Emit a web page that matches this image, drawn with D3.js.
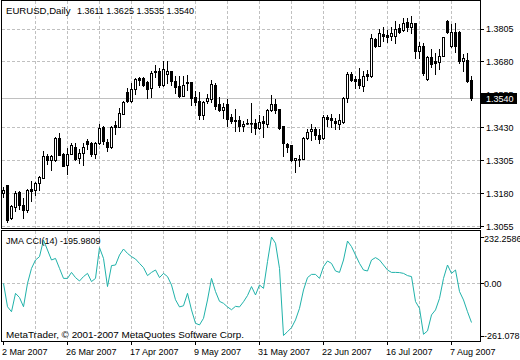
<!DOCTYPE html>
<html><head><meta charset="utf-8">
<script src="https://cdn.jsdelivr.net/npm/d3@7"></script>
<style>body{margin:0;background:#fff}svg{display:block}text{font-family:"Liberation Sans",Arial,sans-serif;fill:#000}</style>
</head><body>
<script>
const openP = [1.3180,1.3210,1.3085,1.3128,1.3184,1.3135,1.3117,1.3195,1.3193,1.3217,1.3239,1.3319,1.3305,1.3305,1.3390,1.3327,1.3287,1.3330,1.3355,1.3312,1.3331,1.3378,1.3371,1.3330,1.3371,1.3432,1.3375,1.3355,1.3438,1.3432,1.3482,1.3564,1.3529,1.3576,1.3617,1.3617,1.3602,1.3579,1.3645,1.3645,1.3589,1.3634,1.3642,1.3607,1.3585,1.3550,1.3602,1.3600,1.3545,1.3529,1.3475,1.3529,1.3539,1.3592,1.3520,1.3495,1.3520,1.3470,1.3456,1.3456,1.3434,1.3447,1.3448,1.3447,1.3428,1.3453,1.3441,1.3495,1.3520,1.3500,1.3434,1.3366,1.3361,1.3304,1.3309,1.3311,1.3390,1.3417,1.3425,1.3400,1.3390,1.3470,1.3465,1.3452,1.3444,1.3449,1.3541,1.3633,1.3614,1.3614,1.3588,1.3633,1.3623,1.3764,1.3740,1.3784,1.3780,1.3777,1.3778,1.3806,1.3799,1.3831,1.3810,1.3827,1.3721,1.3739,1.3614,1.3696,1.3680,1.3676,1.3701,1.3834,1.3739,1.3793,1.3793,1.3680,1.3686,1.3611];
const highP = [1.3203,1.3212,1.3136,1.3187,1.3187,1.3161,1.3195,1.3227,1.3223,1.3245,1.3340,1.3327,1.3323,1.3393,1.3410,1.3331,1.3350,1.3371,1.3371,1.3346,1.3371,1.3384,1.3375,1.3375,1.3441,1.3434,1.3384,1.3434,1.3453,1.3504,1.3531,1.3579,1.3598,1.3617,1.3619,1.3619,1.3607,1.3645,1.3667,1.3655,1.3682,1.3680,1.3645,1.3623,1.3623,1.3623,1.3629,1.3602,1.3567,1.3563,1.3529,1.3558,1.3608,1.3598,1.3545,1.3523,1.3538,1.3482,1.3500,1.3472,1.3453,1.3462,1.3523,1.3462,1.3476,1.3472,1.3500,1.3554,1.3538,1.3500,1.3434,1.3371,1.3364,1.3315,1.3325,1.3393,1.3424,1.3441,1.3430,1.3422,1.3475,1.3475,1.3479,1.3466,1.3482,1.3545,1.3638,1.3638,1.3625,1.3655,1.3642,1.3646,1.3784,1.3768,1.3802,1.3810,1.3799,1.3812,1.3834,1.3822,1.3844,1.3844,1.3852,1.3827,1.3755,1.3751,1.3699,1.3726,1.3711,1.3726,1.3774,1.3837,1.3822,1.3825,1.3797,1.3709,1.3711,1.3625];
const lowP = [1.3165,1.3072,1.3082,1.3113,1.3120,1.3086,1.3107,1.3151,1.3173,1.3193,1.3237,1.3290,1.3267,1.3302,1.3323,1.3281,1.3254,1.3327,1.3305,1.3296,1.3287,1.3346,1.3321,1.3312,1.3368,1.3365,1.3340,1.3352,1.3403,1.3430,1.3479,1.3526,1.3526,1.3557,1.3592,1.3585,1.3541,1.3544,1.3619,1.3582,1.3585,1.3598,1.3592,1.3560,1.3545,1.3548,1.3573,1.3516,1.3516,1.3462,1.3462,1.3523,1.3525,1.3500,1.3491,1.3466,1.3434,1.3447,1.3415,1.3415,1.3415,1.3444,1.3412,1.3403,1.3422,1.3394,1.3432,1.3491,1.3485,1.3422,1.3321,1.3336,1.3302,1.3260,1.3281,1.3309,1.3384,1.3381,1.3387,1.3371,1.3384,1.3434,1.3432,1.3424,1.3424,1.3447,1.3525,1.3604,1.3579,1.3579,1.3567,1.3611,1.3621,1.3736,1.3739,1.3759,1.3755,1.3762,1.3749,1.3789,1.3797,1.3797,1.3789,1.3692,1.3692,1.3629,1.3608,1.3659,1.3633,1.3651,1.3699,1.3789,1.3734,1.3717,1.3674,1.3642,1.3600,1.3535];
const closeP = [1.3193,1.3076,1.3132,1.3180,1.3136,1.3117,1.3191,1.3189,1.3219,1.3240,1.3321,1.3305,1.3319,1.3390,1.3325,1.3283,1.3330,1.3362,1.3311,1.3334,1.3355,1.3368,1.3330,1.3371,1.3428,1.3378,1.3355,1.3432,1.3432,1.3485,1.3526,1.3529,1.3577,1.3613,1.3611,1.3589,1.3576,1.3636,1.3640,1.3592,1.3651,1.3645,1.3604,1.3582,1.3550,1.3592,1.3598,1.3541,1.3525,1.3475,1.3525,1.3541,1.3595,1.3512,1.3497,1.3507,1.3462,1.3453,1.3452,1.3434,1.3443,1.3447,1.3446,1.3428,1.3451,1.3447,1.3494,1.3520,1.3497,1.3427,1.3369,1.3356,1.3304,1.3312,1.3310,1.3390,1.3413,1.3425,1.3400,1.3387,1.3470,1.3462,1.3457,1.3447,1.3457,1.3541,1.3633,1.3608,1.3607,1.3592,1.3625,1.3626,1.3768,1.3740,1.3787,1.3777,1.3774,1.3787,1.3803,1.3793,1.3827,1.3810,1.3825,1.3721,1.3739,1.3636,1.3696,1.3671,1.3674,1.3701,1.3772,1.3793,1.3793,1.3739,1.3680,1.3692,1.3604,1.3540];
const cciVals = [0,-117,-142,-50,-71,-117,0,75,117,134,217,167,117,125,75,25,25,55,29,12,34,50,9,25,179,125,-16,89,92,142,172,150,134,122,100,79,39,55,67,29,50,34,-8,-82,-118,-112,-50,-133,-200,-208,-175,-83,25,-41,-90,-100,-118,-132,-115,-118,-92,-61,-16,-58,-8,-25,109,232.2586,201,75,-261.078,-242,-222,-183,-125,-33,29,45,45,25,84,112,100,62,55,117,212,184,142,100,67,62,117,129,117,92,67,55,55,54,50,39,34,-91,-125,-255,-238,-158,-133,-75,25,92,50,67,-41,-83,-142,-195.9809];
const dateLabels = ["2 Mar 2007","26 Mar 2007","17 Apr 2007","9 May 2007","31 May 2007","22 Jun 2007","16 Jul 2007","7 Aug 2007"];
const dateBars = [0,16,32,48,64,80,96,112];
const priceLabels = [1.3805,1.3680,1.3555,1.3430,1.3305,1.3180,1.3055];
const priceGrid = [1.3805,1.3680,1.3430,1.3305,1.3180,1.3055];
const cciLabels = ["232.2586","0.00","-261.078"];
const cciLabelVals = [232.2586,0,-261.078];

const svg = d3.select("body").append("svg").attr("width",520).attr("height",360);
svg.append("rect").attr("width",520).attr("height",360).attr("fill","#fff");

const n = closeP.length;
const x = d3.scaleLinear().domain([0,117]).range([3.5,471.5]);
const y = d3.scaleLinear().domain([1.3055,1.3805]).range([226,28.5]);
const yc = d3.scaleLinear().domain([-261.078,232.2586]).range([335.5,237]);
const cr = v => Math.round(v)+0.5;
const gridCol = "#c0c0c0";

const vg = d3.range(8,118,8);
[[1,228],[231,341]].forEach(([a,b])=>{
  svg.selectAll(null).data(vg).enter().append("line")
    .attr("x1",d=>cr(x(d)-0.5)).attr("x2",d=>cr(x(d)-0.5)).attr("y1",a).attr("y2",b)
    .attr("stroke",gridCol).attr("stroke-dasharray","3,2");
});
svg.selectAll(null).data(priceGrid).enter().append("line")
  .attr("x1",2).attr("x2",480).attr("y1",d=>cr(y(d))).attr("y2",d=>cr(y(d)))
  .attr("stroke",gridCol).attr("stroke-dasharray","3,2");
svg.append("line").attr("x1",2).attr("x2",480).attr("y1",cr(yc(0))).attr("y2",cr(yc(0)))
  .attr("stroke",gridCol).attr("stroke-dasharray","3,2");
svg.append("line").attr("x1",2).attr("x2",480).attr("y1",cr(y(closeP[n-1]))).attr("y2",cr(y(closeP[n-1])))
  .attr("stroke",gridCol);

const idx = d3.range(n);
const g = svg.append("g");
g.selectAll("line.w").data(idx).enter().append("line")
  .attr("x1",i=>x(i)).attr("x2",i=>x(i))
  .attr("y1",i=>Math.round(y(highP[i]))).attr("y2",i=>Math.round(y(lowP[i]))+1)
  .attr("stroke","#000");
g.selectAll("rect.b").data(idx).enter().append("rect")
  .attr("x",i=>x(i)-1)
  .attr("y",i=>cr(y(Math.max(openP[i],closeP[i]))))
  .attr("width",2)
  .attr("height",i=>Math.max(0.6, cr(y(Math.min(openP[i],closeP[i]))) - cr(y(Math.max(openP[i],closeP[i])))))
  .attr("fill",i=>closeP[i]>=openP[i]?"#fff":"#000")
  .attr("stroke","#000");

svg.append("path").datum(cciVals)
  .attr("d",d3.line().x((d,i)=>x(i)).y(d=>yc(d)))
  .attr("fill","none").attr("stroke","#20b2aa").attr("stroke-width",1);

svg.append("rect").attr("x",1.5).attr("y",0.5).attr("width",479).attr("height",228).attr("fill","none").attr("stroke","#000");
svg.append("rect").attr("x",1.5).attr("y",230.5).attr("width",479).attr("height",111).attr("fill","none").attr("stroke","#000");

svg.selectAll(null).data(priceLabels).enter().append("line")
  .attr("x1",481).attr("x2",484).attr("y1",d=>cr(y(d))).attr("y2",d=>cr(y(d))).attr("stroke","#000");
svg.selectAll(null).data(priceLabels).enter().append("text")
  .attr("x",486).attr("y",d=>y(d)+3.5).attr("font-size","9px").text(d=>d.toFixed(4));
const by = y(closeP[n-1]);
svg.append("rect").attr("x",481).attr("y",Math.round(by)-5).attr("width",36).attr("height",11).attr("fill","#000");
svg.append("text").attr("x",486).attr("y",by+3.5).attr("font-size","9px").style("fill","#fff").text(closeP[n-1].toFixed(4));

const cciOff = [5,3.3,3];
svg.selectAll(null).data(cciLabelVals).enter().append("line")
  .attr("x1",481).attr("x2",484).attr("y1",d=>cr(yc(d))).attr("y2",d=>cr(yc(d))).attr("stroke","#000");
svg.selectAll(null).data(cciLabels).enter().append("text")
  .attr("x",484).attr("y",(d,i)=>yc(cciLabelVals[i])+cciOff[i]).attr("font-size","9px").text(d=>d);

svg.selectAll(null).data(dateBars).enter().append("line")
  .attr("x1",d=>x(d)).attr("x2",d=>x(d)).attr("y1",342).attr("y2",345).attr("stroke","#000");
svg.selectAll(null).data(dateBars).enter().append("text")
  .attr("x",d=>x(d)-1.5).attr("y",355).attr("font-size","9px").text((d,i)=>dateLabels[i]);

svg.append("text").attr("x",6).attr("y",14).attr("font-size","9.6px").text("EURUSD,Daily");
svg.append("text").attr("x",77).attr("y",14).attr("font-size","9px")
  .text([openP[n-1],highP[n-1],lowP[n-1],closeP[n-1]].map(v=>v.toFixed(4)).join(" "));
svg.append("text").attr("x",6).attr("y",243.5).attr("font-size","9px")
  .text("JMA CCI(14) " + cciVals[n-1].toFixed(4));
svg.append("text").attr("x",6).attr("y",337.5).attr("font-size","9.9px")
  .text("MetaTrader, \u00a9 2001-2007 MetaQuotes Software Corp.");
</script>
</body></html>
